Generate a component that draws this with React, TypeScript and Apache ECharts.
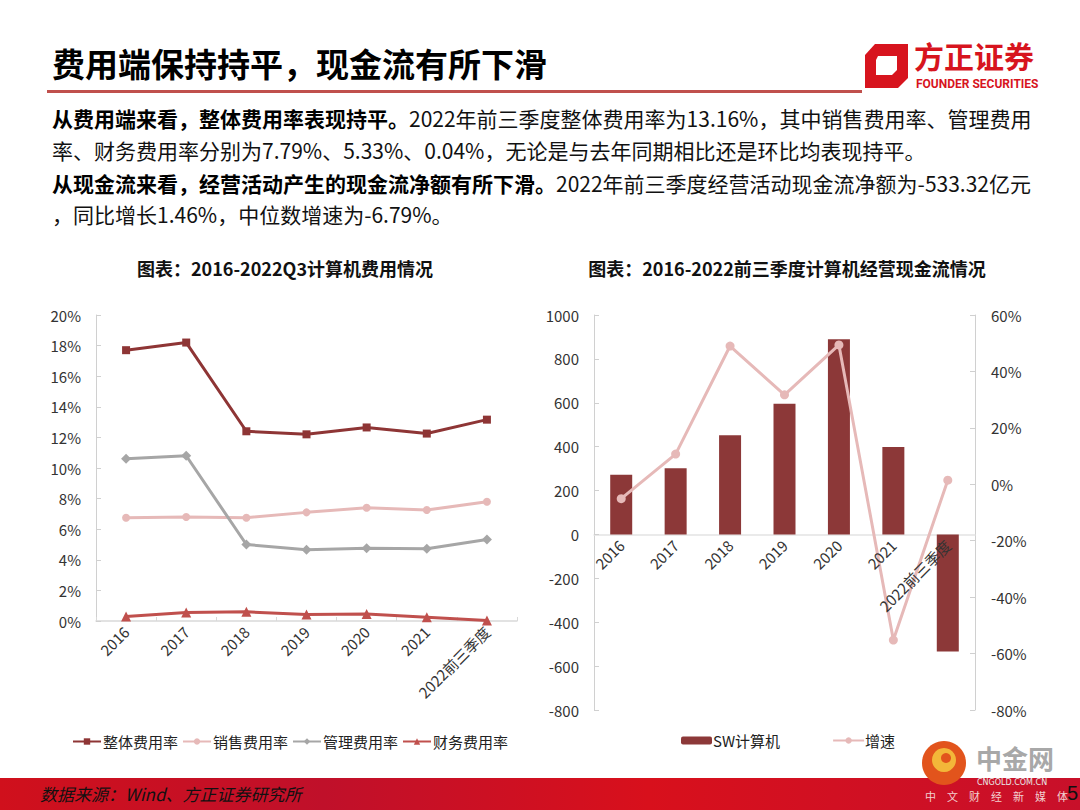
import React, { useEffect, useRef } from "react";
import * as echarts from "echarts";

const categories = ["2016", "2017", "2018", "2019", "2020", "2021", "2022前三季度"];
const totalRate = [17.7, 18.2, 12.4, 12.2, 12.65, 12.25, 13.16];
const salesRate = [6.75, 6.8, 6.75, 7.1, 7.4, 7.25, 7.79];
const mgmtRate = [10.6, 10.8, 5.0, 4.65, 4.75, 4.72, 5.33];
const finRate = [0.3, 0.55, 0.6, 0.42, 0.45, 0.25, 0.04];
const cashFlow = [272, 302, 452, 596, 890, 398, -533.32];
const growth = [-5.1, 10.7, 49.0, 31.7, 49.4, -55.2, 1.46];

const FONT = "'Noto Sans CJK SC', 'Noto Sans', sans-serif";
const C_TOTAL = "#8e3535";
const C_SALES = "#e6b9b8";
const C_MGMT = "#a6a6a6";
const C_FIN = "#c0504d";
const C_LOGO = "#d7141e";

export default function App() {
  const ref = useRef<HTMLDivElement>(null);
  useEffect(() => {
    if (!ref.current) return;
    const chart = echarts.init(ref.current, undefined, { renderer: "svg" });
    const axisLabel = { color: "#333", fontSize: 15, fontFamily: FONT };
    const para = (y: number, bold: string, normal: string) => ({
      type: "text",
      left: 52,
      top: y - 13,
      style: {
        text: (bold ? "{b|" + bold + "}" : "") + "{n|" + normal + "}",
        rich: {
          b: { fontSize: 21, fontWeight: "bold", fill: "#000", fontFamily: FONT },
          n: { fontSize: 21, fill: "#111", fontFamily: FONT },
        },
      },
    });
    const option: any = {
      animation: false,
      textStyle: { fontFamily: FONT },
      graphic: [
        {
          type: "text",
          left: 52,
          top: 46,
          style: { text: "费用端保持持平，现金流有所下滑", fontSize: 33, fontWeight: "bold", fill: "#000", fontFamily: FONT },
        },
        { type: "rect", shape: { x: 47, y: 90, width: 815, height: 3 }, style: { fill: "#c0504d" } },
        // logo
        {
          type: "polygon",
          shape: { points: [[875, 44], [908, 44], [908, 78], [898, 88], [865, 88], [865, 55]] },
          style: { fill: C_LOGO },
        },
        {
          type: "polygon",
          shape: { points: [[878, 56], [897, 56], [897, 70], [892, 75], [876, 75], [876, 60]] },
          style: { fill: "#fff" },
        },
        {
          type: "text",
          left: 914,
          top: 40,
          style: { text: "方正证券", fontSize: 30, fontWeight: "bold", fill: C_LOGO, fontFamily: FONT },
        },
        {
          type: "text",
          left: 916,
          top: 78,
          style: { text: "FOUNDER SECURITIES", fontSize: 12, fontWeight: "bold", fill: C_LOGO, fontFamily: "'Liberation Sans Narrow', 'Roboto', sans-serif" },
        },
        para(120, "从费用端来看，整体费用率表现持平。", "2022年前三季度整体费用率为13.16%，其中销售费用率、管理费用"),
        para(152, "", "率、财务费用率分别为7.79%、5.33%、0.04%，无论是与去年同期相比还是环比均表现持平。"),
        para(185, "从现金流来看，经营活动产生的现金流净额有所下滑。", "2022年前三季度经营活动现金流净额为-533.32亿元"),
        para(216, "", "，同比增长1.46%，中位数增速为-6.79%。"),
        {
          type: "text",
          x: 285,
          y: 268,
          style: { text: "图表：2016-2022Q3计算机费用情况", fontSize: 18, fontWeight: "bold", fill: "#111", fontFamily: FONT, align: "center", verticalAlign: "middle" },
        },
        {
          type: "text",
          x: 787,
          y: 268,
          style: { text: "图表：2016-2022前三季度计算机经营现金流情况", fontSize: 18, fontWeight: "bold", fill: "#111", fontFamily: FONT, align: "center", verticalAlign: "middle" },
        },
        // footer
        {
          type: "rect",
          shape: { x: 0, y: 778, width: 1080, height: 32 },
          style: {
            fill: new echarts.graphic.LinearGradient(0, 0, 1, 0, [
              { offset: 0, color: "#d0101c" },
              { offset: 0.3, color: "#c0102a" },
              { offset: 0.6, color: "#d8101c" },
              { offset: 1, color: "#c8102a" },
            ]),
          },
        },
        {
          type: "text",
          left: 40,
          top: 785,
          style: { text: "数据来源：Wind、方正证券研究所", fontSize: 17, fontStyle: "italic", fill: "#111", fontFamily: FONT },
        },
        // watermark
        { type: "circle", shape: { cx: 944, cy: 763, r: 22 }, style: { fill: "#e2541c" } },
        { type: "circle", shape: { cx: 944, cy: 760, r: 12 }, style: { fill: "#f3b739" } },
        { type: "circle", shape: { cx: 946, cy: 758, r: 5 }, style: { fill: "#e2541c" } },
        {
          type: "text",
          left: 976,
          top: 744,
          style: { text: "中金网", fontSize: 26, fontWeight: "bold", fill: "#a8a8a8", fontFamily: FONT },
        },
        {
          type: "text",
          left: 977,
          top: 778,
          style: { text: "CNGOLD.COM.CN", fontSize: 8, fill: "#e8e8e8", fontFamily: "'DejaVu Sans', sans-serif" },
        },
        {
          type: "text",
          left: 925,
          top: 790,
          style: { text: "中\u3000文\u3000财\u3000经\u3000新\u3000媒\u3000体", fontSize: 11, fill: "#f2d0d0", fontFamily: FONT },
        },
        {
          type: "text",
          left: 1067,
          top: 783,
          style: { text: "5", fontSize: 20, fill: "#111", fontFamily: "'Liberation Sans Narrow', sans-serif" },
        },
      ],
      legend: [
        {
          left: 72,
          top: 734,
          padding: 0,
          itemWidth: 28,
          itemHeight: 8,
          itemGap: 4,
          textStyle: { fontSize: 15, color: "#222", fontFamily: FONT, padding: [0, 0, 0, -3] },
          data: ["整体费用率", "销售费用率", "管理费用率", "财务费用率"],
        },
        {
          left: 681,
          top: 733,
          padding: 0,
          itemWidth: 31,
          itemHeight: 8,
          itemGap: 52,
          textStyle: { fontSize: 15, color: "#222", fontFamily: FONT, padding: [0, 0, 0, -4] },
          data: ["SW计算机", "增速"],
        },
      ],
      grid: [
        { left: 96, top: 315, width: 421, height: 306 },
        { left: 594, top: 315, width: 381, height: 395 },
        { left: 594, top: 315, width: 381, height: 219.5 },
      ],
      xAxis: [
        {
          type: "category",
          gridIndex: 0,
          data: categories,
          boundaryGap: true,
          axisLine: { lineStyle: { color: "#d9d9d9", width: 1.5 } },
          axisTick: { show: true, inside: true, length: 4, lineStyle: { color: "#d9d9d9" } },
          axisLabel: { ...axisLabel, rotate: 45, interval: 0, margin: 8 },
        },
        {
          type: "category",
          gridIndex: 1,
          data: categories,
          boundaryGap: true,
          axisLine: { onZero: true, lineStyle: { color: "#e3e3e3", width: 1.5 } },
          axisTick: { show: false },
          axisLabel: { show: false },
        },
        {
          type: "category",
          gridIndex: 2,
          z: 10,
          data: categories,
          boundaryGap: true,
          axisLine: { show: false },
          axisTick: { show: false },
          axisLabel: { ...axisLabel, rotate: 45, interval: 0, margin: 8 },
        },
      ],
      yAxis: [
        {
          type: "value",
          gridIndex: 0,
          min: 0,
          max: 20,
          interval: 2,
          axisLine: { show: true, lineStyle: { color: "#d0d0d0" } },
          axisTick: { show: true, inside: true, length: 5, lineStyle: { color: "#d0d0d0" } },
          splitLine: { show: false },
          axisLabel: { ...axisLabel, margin: 15, formatter: "{value}%" },
        },
        {
          type: "value",
          gridIndex: 1,
          min: -800,
          max: 1000,
          interval: 200,
          axisLine: { show: true, onZero: false, lineStyle: { color: "#d0d0d0" } },
          axisTick: { show: true, inside: true, length: 5, lineStyle: { color: "#d0d0d0" } },
          splitLine: { show: false },
          axisLabel: { ...axisLabel, margin: 15, formatter: (v: number) => String(v) },
        },
        {
          type: "value",
          gridIndex: 1,
          position: "right",
          min: -80,
          max: 60,
          interval: 20,
          axisLine: { show: true, onZero: false, lineStyle: { color: "#d0d0d0" } },
          axisTick: { show: true, inside: true, length: 5, lineStyle: { color: "#d0d0d0" } },
          splitLine: { show: false },
          axisLabel: { ...axisLabel, margin: 16, formatter: "{value}%" },
        },
        {
          type: "value",
          gridIndex: 2,
          show: false,
          min: 0,
          max: 1,
        },
      ],
      series: [
        {
          name: "整体费用率",
          type: "line",
          xAxisIndex: 0,
          yAxisIndex: 0,
          data: totalRate,
          symbol: "rect",
          symbolSize: 8,
          lineStyle: { color: C_TOTAL, width: 3 },
          itemStyle: { color: C_TOTAL },
        },
        {
          name: "销售费用率",
          type: "line",
          xAxisIndex: 0,
          yAxisIndex: 0,
          data: salesRate,
          symbol: "circle",
          symbolSize: 8,
          lineStyle: { color: C_SALES, width: 3 },
          itemStyle: { color: C_SALES },
        },
        {
          name: "管理费用率",
          type: "line",
          xAxisIndex: 0,
          yAxisIndex: 0,
          data: mgmtRate,
          symbol: "diamond",
          symbolSize: 10,
          lineStyle: { color: C_MGMT, width: 3 },
          itemStyle: { color: C_MGMT },
        },
        {
          name: "财务费用率",
          type: "line",
          xAxisIndex: 0,
          yAxisIndex: 0,
          data: finRate,
          symbol: "triangle",
          symbolSize: 10,
          lineStyle: { color: C_FIN, width: 3 },
          itemStyle: { color: C_FIN },
        },
        {
          name: "SW计算机",
          type: "bar",
          xAxisIndex: 1,
          yAxisIndex: 1,
          data: cashFlow,
          barWidth: 22,
          itemStyle: { color: "#8c3838" },
        },
        {
          name: "增速",
          type: "line",
          xAxisIndex: 1,
          yAxisIndex: 2,
          data: growth,
          symbol: "circle",
          symbolSize: 9,
          z: 5,
          lineStyle: { color: C_SALES, width: 3 },
          itemStyle: { color: C_SALES },
        },
      ],
    };
    chart.setOption(option);
    return () => chart.dispose();
  }, []);
  return (
    <div
      ref={ref}
      style={{ position: "fixed", left: 0, top: 0, width: 1080, height: 810, background: "#fff" }}
    />
  );
}
